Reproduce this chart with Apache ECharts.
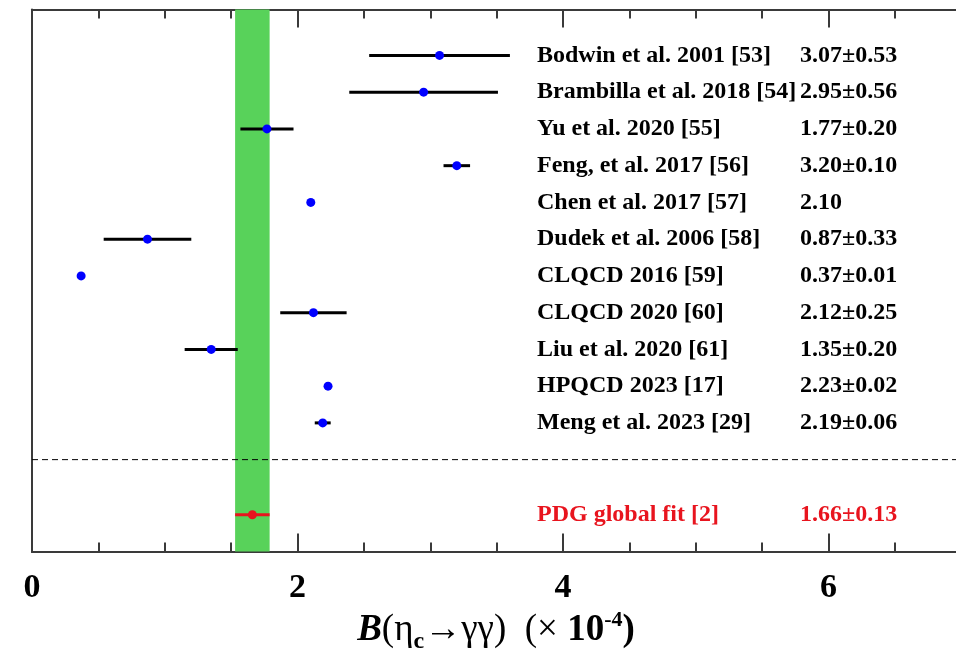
<!DOCTYPE html>
<html>
<head>
<meta charset="utf-8">
<script src="https://cdn.jsdelivr.net/npm/echarts@6/dist/echarts.min.js"></script>
<style>
  html, body { margin: 0; padding: 0; background: #fff; }
  #chart { width: 956px; height: 661px; }
</style>
</head>
<body>
<div id="chart"></div>
<script>
// Theory / lattice predictions for B(eta_c -> gamma gamma), in units of 1e-4 (top to bottom)
const names = [
  'Bodwin et al. 2001 [53]',
  'Brambilla et al. 2018 [54]',
  'Yu et al. 2020 [55]',
  'Feng, et al. 2017 [56]',
  'Chen et al. 2017 [57]',
  'Dudek et al. 2006 [58]',
  'CLQCD 2016 [59]',
  'CLQCD 2020 [60]',
  'Liu et al. 2020 [61]',
  'HPQCD 2023 [17]',
  'Meng et al. 2023 [29]'
];
const values = [3.07, 2.95, 1.77, 3.20, 2.10, 0.87, 0.37, 2.12, 1.35, 2.23, 2.19];
const errors = [0.53, 0.56, 0.20, 0.10, null, 0.33, 0.01, 0.25, 0.20, 0.02, 0.06];

// PDG world average
const pdgName = 'PDG global fit [2]';
const pdgValue = 1.66;
const pdgError = 0.13;

// x-axis tick labels
const xTickLabels = ['0', '2', '4', '6'];

const SERIF = '"Liberation Serif", "DejaVu Serif", serif';
const RED = '#e8141e';
const BLUE = '#0000ff';
const BAND = '#58d25a';
const FRAME = '#3a3a3a';

// Vertical layout of rows: theory rows stacked above a separator, PDG below it.
const rowY = i => 13.5 - i;
const pdgY = 1;
const separatorY = 2.5;
const YMAX = 14.75;

function fmt(v, e) {
  return e == null ? v.toFixed(2) : v.toFixed(2) + '\u00b1' + e.toFixed(2);
}

const rows = names.map((n, i) => ({
  name: n, value: values[i], error: errors[i], y: rowY(i), color: '#000', dot: BLUE
}));
rows.push({ name: pdgName, value: pdgValue, error: pdgError, y: pdgY, color: RED, dot: RED });

const chart = echarts.init(document.getElementById('chart'), null, { renderer: 'canvas' });

const UNIT = 132.75;
const XMAX = 8;

function xAxisDef(position, interval, tickLen, showLabels) {
  return {
    type: 'value', position: position, min: 0, max: XMAX, interval: interval,
    axisLine: { show: true, onZero: false, lineStyle: { color: FRAME, width: 2 } },
    axisTick: { show: true, inside: true, length: tickLen, lineStyle: { color: FRAME, width: 2 } },
    splitLine: { show: false },
    axisLabel: showLabels ? {
      show: true, margin: 20, color: '#000', fontFamily: SERIF, fontWeight: 'bold', fontSize: 34,
      formatter: v => (xTickLabels.indexOf(String(v)) >= 0 ? String(v) : '')
    } : { show: false }
  };
}

const option = {
  backgroundColor: '#fff',
  animation: false,
  grid: { left: 32, top: 9.5, width: XMAX * UNIT, height: 542, containLabel: false, outerBoundsMode: 'none' },
  xAxis: [
    xAxisDef('bottom', 0.5, 9, false),
    xAxisDef('bottom', 2, 18, true),
    xAxisDef('top', 0.5, 9, false),
    xAxisDef('top', 2, 18, false)
  ],
  yAxis: {
    type: 'value', min: 0, max: YMAX,
    axisLine: { show: true, lineStyle: { color: FRAME, width: 2 } },
    axisTick: { show: false }, axisLabel: { show: false }, splitLine: { show: false }
  },
  graphic: [{
    type: 'text',
    x: 496, y: 630,
    style: {
      text: '{it|B}{n|(\u03b7}{sub|c}{n|\u2192\u03b3\u03b3)  (\u00d7 }{b|10}{sup|-4}{b|)}',
      align: 'center', verticalAlign: 'middle',
      rich: {
        it: { fontFamily: SERIF, fontStyle: 'italic', fontWeight: 'bold', fontSize: 37, fill: '#000' },
        n: { fontFamily: SERIF, fontSize: 37, fill: '#000' },
        b: { fontFamily: SERIF, fontWeight: 'bold', fontSize: 37, fill: '#000' },
        sub: { fontFamily: SERIF, fontWeight: 'bold', fontSize: 24, fill: '#000', padding: [24, 0, 0, 0] },
        sup: { fontFamily: SERIF, fontWeight: 'bold', fontSize: 22, fill: '#000', padding: [0, 0, 20, 0] }
      }
    }
  }],
  series: [
    // PDG band (value +/- error) spanning the full height
    {
      type: 'custom', xAxisIndex: 1, z: 1,
      data: [[pdgValue - pdgError, pdgValue + pdgError]],
      renderItem: (params, api) => {
        const p0 = api.coord([api.value(0), YMAX]);
        const p1 = api.coord([api.value(1), 0]);
        return { type: 'rect', shape: { x: p0[0], y: p0[1], width: p1[0] - p0[0], height: p1[1] - p0[1] },
                 style: { fill: BAND } };
      }
    },
    // dashed separator between predictions and PDG
    {
      type: 'custom', xAxisIndex: 1, z: 2,
      data: [[separatorY]],
      renderItem: (params, api) => {
        const a = api.coord([0, api.value(0)]);
        const b = api.coord([XMAX, api.value(0)]);
        return { type: 'line', shape: { x1: a[0], y1: a[1], x2: b[0], y2: b[1] },
                 style: { stroke: '#000', lineWidth: 1, lineDash: [6, 4] } };
      }
    },
    // error bars and central values
    {
      type: 'custom', xAxisIndex: 1, z: 5,
      data: rows.map(r => [r.value, r.y, r.error == null ? 0 : r.error]),
      renderItem: (params, api) => {
        const r = rows[params.dataIndex];
        const v = api.value(0), y = api.value(1), e = api.value(2);
        const c = api.coord([v, y]);
        const children = [];
        if (e > 0) {
          const lo = api.coord([v - e, y]), hi = api.coord([v + e, y]);
          children.push({ type: 'line', shape: { x1: lo[0], y1: lo[1], x2: hi[0], y2: hi[1] },
                          style: { stroke: r.color, lineWidth: 3 } });
        }
        children.push({ type: 'circle', shape: { cx: c[0], cy: c[1], r: 4.5 }, style: { fill: r.dot } });
        return { type: 'group', children: children };
      }
    },
    // row captions: reference name and quoted value
    {
      type: 'custom', xAxisIndex: 1, z: 6,
      data: rows.map(r => [r.y]),
      renderItem: (params, api) => {
        const r = rows[params.dataIndex];
        const y = api.coord([0, api.value(0)])[1];
        const font = { fontFamily: SERIF, fontWeight: 'bold', fontSize: 24, fill: r.color,
                       verticalAlign: 'middle', align: 'left' };
        return { type: 'group', children: [
          { type: 'text', x: 537, y: y, style: Object.assign({ text: r.name }, font) },
          { type: 'text', x: 800, y: y, style: Object.assign({ text: fmt(r.value, r.error) }, font) }
        ] };
      }
    }
  ]
};

chart.setOption(option);
</script>
</body>
</html>
